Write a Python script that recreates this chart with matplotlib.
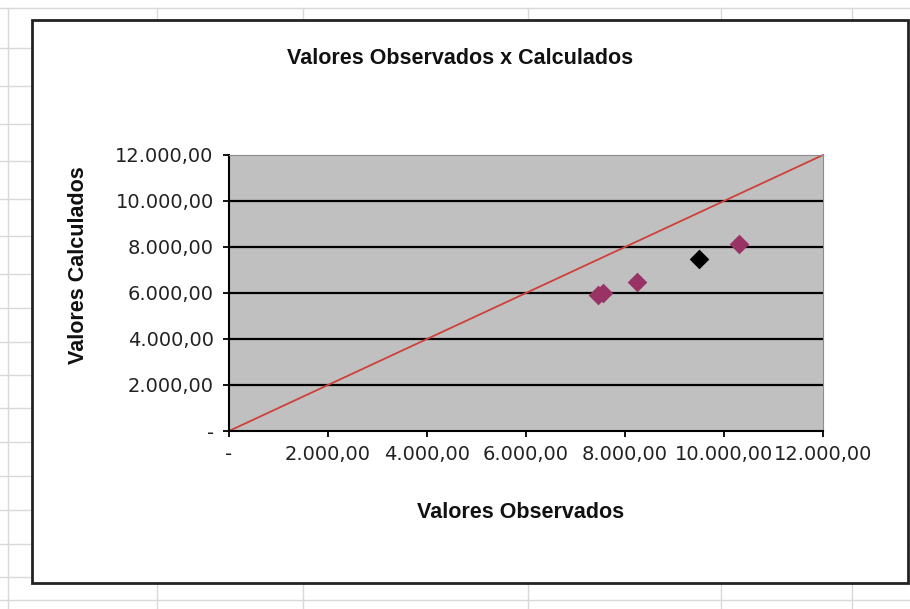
import matplotlib.pyplot as plt
from matplotlib.lines import Line2D
from matplotlib.patches import Rectangle

# data
obs_purple = [7450, 7550, 8250, 10300]
calc_purple = [5900, 6000, 6500, 8150]
obs_black = [9500]
calc_black = [7500]
ref_x = [0, 12000]
ref_y = [0, 12000]
ticks = [0, 2000, 4000, 6000, 8000, 10000, 12000]
tick_labels = ['-', '2.000,00', '4.000,00', '6.000,00', '8.000,00', '10.000,00', '12.000,00']

W, H = 910, 609
fig = plt.figure(figsize=(W / 100, H / 100), dpi=100)
fig.patch.set_facecolor('white')

def fx(px):
    return px / W

def fy(py):
    return 1 - py / H

# spreadsheet grid behind the chart
grid_col = '#d9d9d9'
for cx in [8, 157, 303, 528, 721, 852]:
    fig.add_artist(Line2D([fx(cx), fx(cx)], [fy(8), fy(609)], color=grid_col, lw=1, zorder=0))
for ry in [8, 48, 86, 124, 161, 199, 236, 274, 308, 342, 375, 408, 442, 476, 510, 544, 577, 600]:
    fig.add_artist(Line2D([fx(0), fx(910)], [fy(ry), fy(ry)], color=grid_col, lw=1, zorder=0))

# chart area box
fig.add_artist(Rectangle((fx(32), fy(583)), fx(908) - fx(32), fy(20) - fy(583),
                         facecolor='white', edgecolor='#222222', lw=2, zorder=1))

ax = fig.add_axes([fx(229), fy(431), fx(823) - fx(229), fy(155) - fy(431)], zorder=2)
ax.set_facecolor('#c0c0c0')
ax.set_xlim(0, 12000)
ax.set_ylim(0, 12000)

for t in ticks[1:-1]:
    ax.axhline(t, color='black', lw=1.6, zorder=1)

ax.plot(ref_x, ref_y, color='#d0403a', lw=1.3, zorder=2, clip_on=False)
ax.scatter(obs_purple, calc_purple, marker='D', s=100, color='#993366', zorder=3, linewidths=0)
ax.scatter(obs_black, calc_black, marker='D', s=100, color='black', zorder=3, linewidths=0)

ax.set_xticks(ticks)
ax.set_xticklabels(tick_labels)
ax.set_yticks(ticks)
ax.set_yticklabels(tick_labels)
ax.tick_params(axis='both', direction='out', length=4, width=1.3, color='black',
               labelsize=14, labelcolor='#222222')
ax.tick_params(axis='y', pad=7)
ax.tick_params(axis='x', pad=6)
for lab in ax.get_xticklabels() + ax.get_yticklabels():
    lab.set_family('DejaVu Sans')

ax.spines['left'].set_color('black')
ax.spines['left'].set_linewidth(1.5)
ax.spines['bottom'].set_color('black')
ax.spines['bottom'].set_linewidth(1.5)
ax.spines['top'].set_color('#8c8c8c')
ax.spines['right'].set_color('#8c8c8c')

fig.text(fx(460), fy(58), 'Valores Observados x Calculados', ha='center', va='center',
         fontsize=15.5, fontweight='bold', family='Liberation Sans', color='#111111')
fig.text(fx(521), fy(513), 'Valores Observados', ha='center', va='center',
         fontsize=15.5, fontweight='bold', family='Liberation Sans', color='#111111')
fig.text(fx(78), fy(265), 'Valores Calculados', ha='center', va='center', rotation=90,
         fontsize=15.5, fontweight='bold', family='Liberation Sans', color='#111111')

fig.savefig('out.png', dpi=100)
